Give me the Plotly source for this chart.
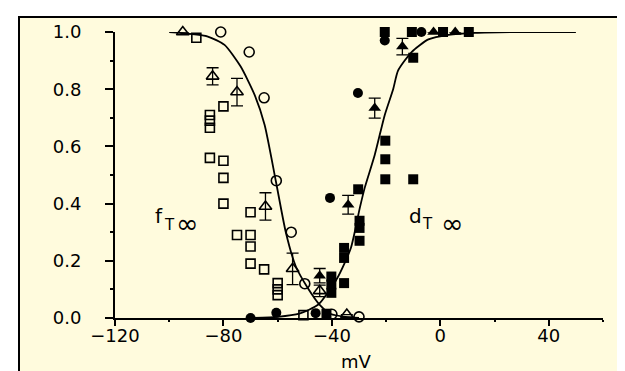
import plotly.graph_objects as go

# ---- fitted curves ----
f_curve_x = [-100, -86, -79.6, -73.7, -68.5, -64.8, -60.7, -57, -53.3, -48.9, -44.4, -40.4, -35, -30]
f_curve_y = [1.0, 0.985, 0.955, 0.88, 0.78, 0.675, 0.48, 0.30, 0.18, 0.105, 0.045, 0.014, 0.004, 0.0]

d_curve_x = [-70, -60, -52, -45, -38, -33, -29.7, -27.9, -24.2, -20.5, -17.4, -15.6, -10.6, -4.4, 3, 12.8, 30, 50]
d_curve_y = [0.0, 0.004, 0.015, 0.047, 0.14, 0.245, 0.385, 0.455, 0.57, 0.71, 0.80, 0.865, 0.93, 0.974, 0.99, 0.997, 1.0, 1.0]

# ---- f (inactivation) data: open symbols ----
f_sq_x = [-90, -85, -85, -85, -80, -85, -80, -80, -80, -70, -75, -70, -70, -70, -65, -60, -60, -60, -50.5]
f_sq_y = [0.98, 0.71, 0.69, 0.665, 0.74, 0.56, 0.55, 0.49, 0.40, 0.37, 0.29, 0.29, 0.25, 0.19, 0.17, 0.122, 0.10, 0.08, 0.01]

f_ci_x = [-81, -70.5, -65, -60.5, -55, -50, -40, -30]
f_ci_y = [1.0, 0.93, 0.77, 0.48, 0.30, 0.12, 0.013, 0.004]

f_tr_x = [-95, -84, -75, -64.5, -54.5, -44.5, -34.5]
f_tr_y = [1.0, 0.845, 0.79, 0.39, 0.172, 0.095, 0.012]
f_tr_err = [0, 0.03, 0.048, 0.048, 0.055, 0.02, 0]

# ---- d (activation) data: filled symbols ----
d_sq_x = [-20.5, -10.5, 1, 10.5, -10, -20.3, -20.3, -20.3, -10, -30.3, -29.8, -29.8, -29.8,
          -35.5, -35.5, -40.2, -40.2, -40.2, -35.5, -42]
d_sq_y = [1.0, 1.0, 1.0, 1.0, 0.91, 0.62, 0.555, 0.485, 0.485, 0.45, 0.34, 0.315, 0.27,
          0.245, 0.21, 0.145, 0.117, 0.088, 0.122, 0.015]

d_ci_x = [-70, -60.5, -46, -40.7, -30.4, -20.5, -7]
d_ci_y = [0.0, 0.018, 0.017, 0.42, 0.787, 0.97, 1.0]

d_tr_x = [-44.5, -34, -24.2, -14, -2.5, 5.5]
d_tr_y = [0.148, 0.396, 0.734, 0.949, 1.0, 1.0]
d_tr_err = [0.025, 0.033, 0.035, 0.029, 0, 0]

x_ticks = [-120, -80, -40, 0, 40]
y_ticks = [0.0, 0.2, 0.4, 0.6, 0.8, 1.0]
y_tick_text = ["0.0", "0.2", "0.4", "0.6", "0.8", "1.0"]

BG = "#FFFBDD"
INK = "black"
FONT = "DejaVu Sans"

fig = go.Figure()

fig.add_trace(go.Scatter(x=f_curve_x, y=f_curve_y, mode="lines",
                         line=dict(color=INK, width=1.8, shape="spline", smoothing=0.6),
                         cliponaxis=False, hoverinfo="skip"))
fig.add_trace(go.Scatter(x=d_curve_x, y=d_curve_y, mode="lines",
                         line=dict(color=INK, width=1.8, shape="spline", smoothing=0.6),
                         cliponaxis=False, hoverinfo="skip"))

fig.add_trace(go.Scatter(x=f_sq_x, y=f_sq_y, mode="markers", cliponaxis=False,
                         marker=dict(symbol="square-open", size=9, color=INK, line=dict(width=1.6))))
fig.add_trace(go.Scatter(x=f_ci_x, y=f_ci_y, mode="markers", cliponaxis=False,
                         marker=dict(symbol="circle-open", size=10, color=INK, line=dict(width=1.6))))
fig.add_trace(go.Scatter(x=f_tr_x, y=f_tr_y, mode="markers", cliponaxis=False,
                         error_y=dict(type="data", array=f_tr_err, visible=True, color=INK,
                                      thickness=1.3, width=6),
                         marker=dict(symbol="triangle-up-open", size=11, color=INK, line=dict(width=1.6))))

fig.add_trace(go.Scatter(x=d_sq_x, y=d_sq_y, mode="markers", cliponaxis=False,
                         marker=dict(symbol="square", size=10, color=INK, line=dict(width=0))))
fig.add_trace(go.Scatter(x=d_ci_x, y=d_ci_y, mode="markers", cliponaxis=False,
                         marker=dict(symbol="circle", size=10, color=INK, line=dict(width=0))))
fig.add_trace(go.Scatter(x=d_tr_x, y=d_tr_y, mode="markers", cliponaxis=False,
                         error_y=dict(type="data", array=d_tr_err, visible=True, color=INK,
                                      thickness=1.3, width=6),
                         marker=dict(symbol="triangle-up", size=11, color=INK, line=dict(width=0))))

axis_common = dict(showgrid=False, zeroline=False, showline=True, linecolor=INK, linewidth=2,
                   ticks="outside", tickcolor=INK, tickwidth=1.5,
                   tickfont=dict(family=FONT, size=18, color=INK), mirror=False)

fig.update_xaxes(range=[-120, 60], tickvals=x_ticks, ticklen=6, ticklabelstandoff=-6,
                 minor=dict(dtick=20, ticklen=2, tickcolor=INK, ticks="outside"),
                 **axis_common)
fig.update_yaxes(range=[0, 1.0], tickvals=y_ticks, ticktext=y_tick_text, ticklen=8,
                 ticklabelstandoff=20,
                 minor=dict(dtick=0.1, ticklen=3, tickcolor=INK, ticks="outside"),
                 **axis_common)

ann = []
def lab(text, x, y, size):
    ann.append(dict(text=text, x=x, y=y, xref="x", yref="y", showarrow=False,
                    xanchor="center", yanchor="middle",
                    font=dict(family=FONT, size=size, color=INK)))

lab("f", -103.7, 0.357, 20)
lab("T", -100.0, 0.325, 15)
lab("∞", -93.3, 0.332, 27)
lab("d", -9.0, 0.357, 20)
lab("T", -4.9, 0.327, 15)
lab("∞", 4.5, 0.332, 27)
ann.append(dict(text="mV", x=0.495, y=-0.152, xref="paper", yref="paper", showarrow=False,
                xanchor="center", yanchor="middle",
                font=dict(family=FONT, size=18, color=INK)))

fig.update_layout(
    width=625, height=371,
    margin=dict(l=107, r=30, t=24, b=61),
    paper_bgcolor="white", plot_bgcolor=BG,
    showlegend=False,
    annotations=ann,
    shapes=[dict(type="rect", xref="paper", yref="paper",
                 x0=(11 - 107) / 488, x1=(640 - 107) / 488,
                 y0=(310 - 390) / 286, y1=(310 - 9) / 286,
                 line=dict(color=INK, width=2), fillcolor=BG, layer="below")],
)

fig.write_html("out.html")
